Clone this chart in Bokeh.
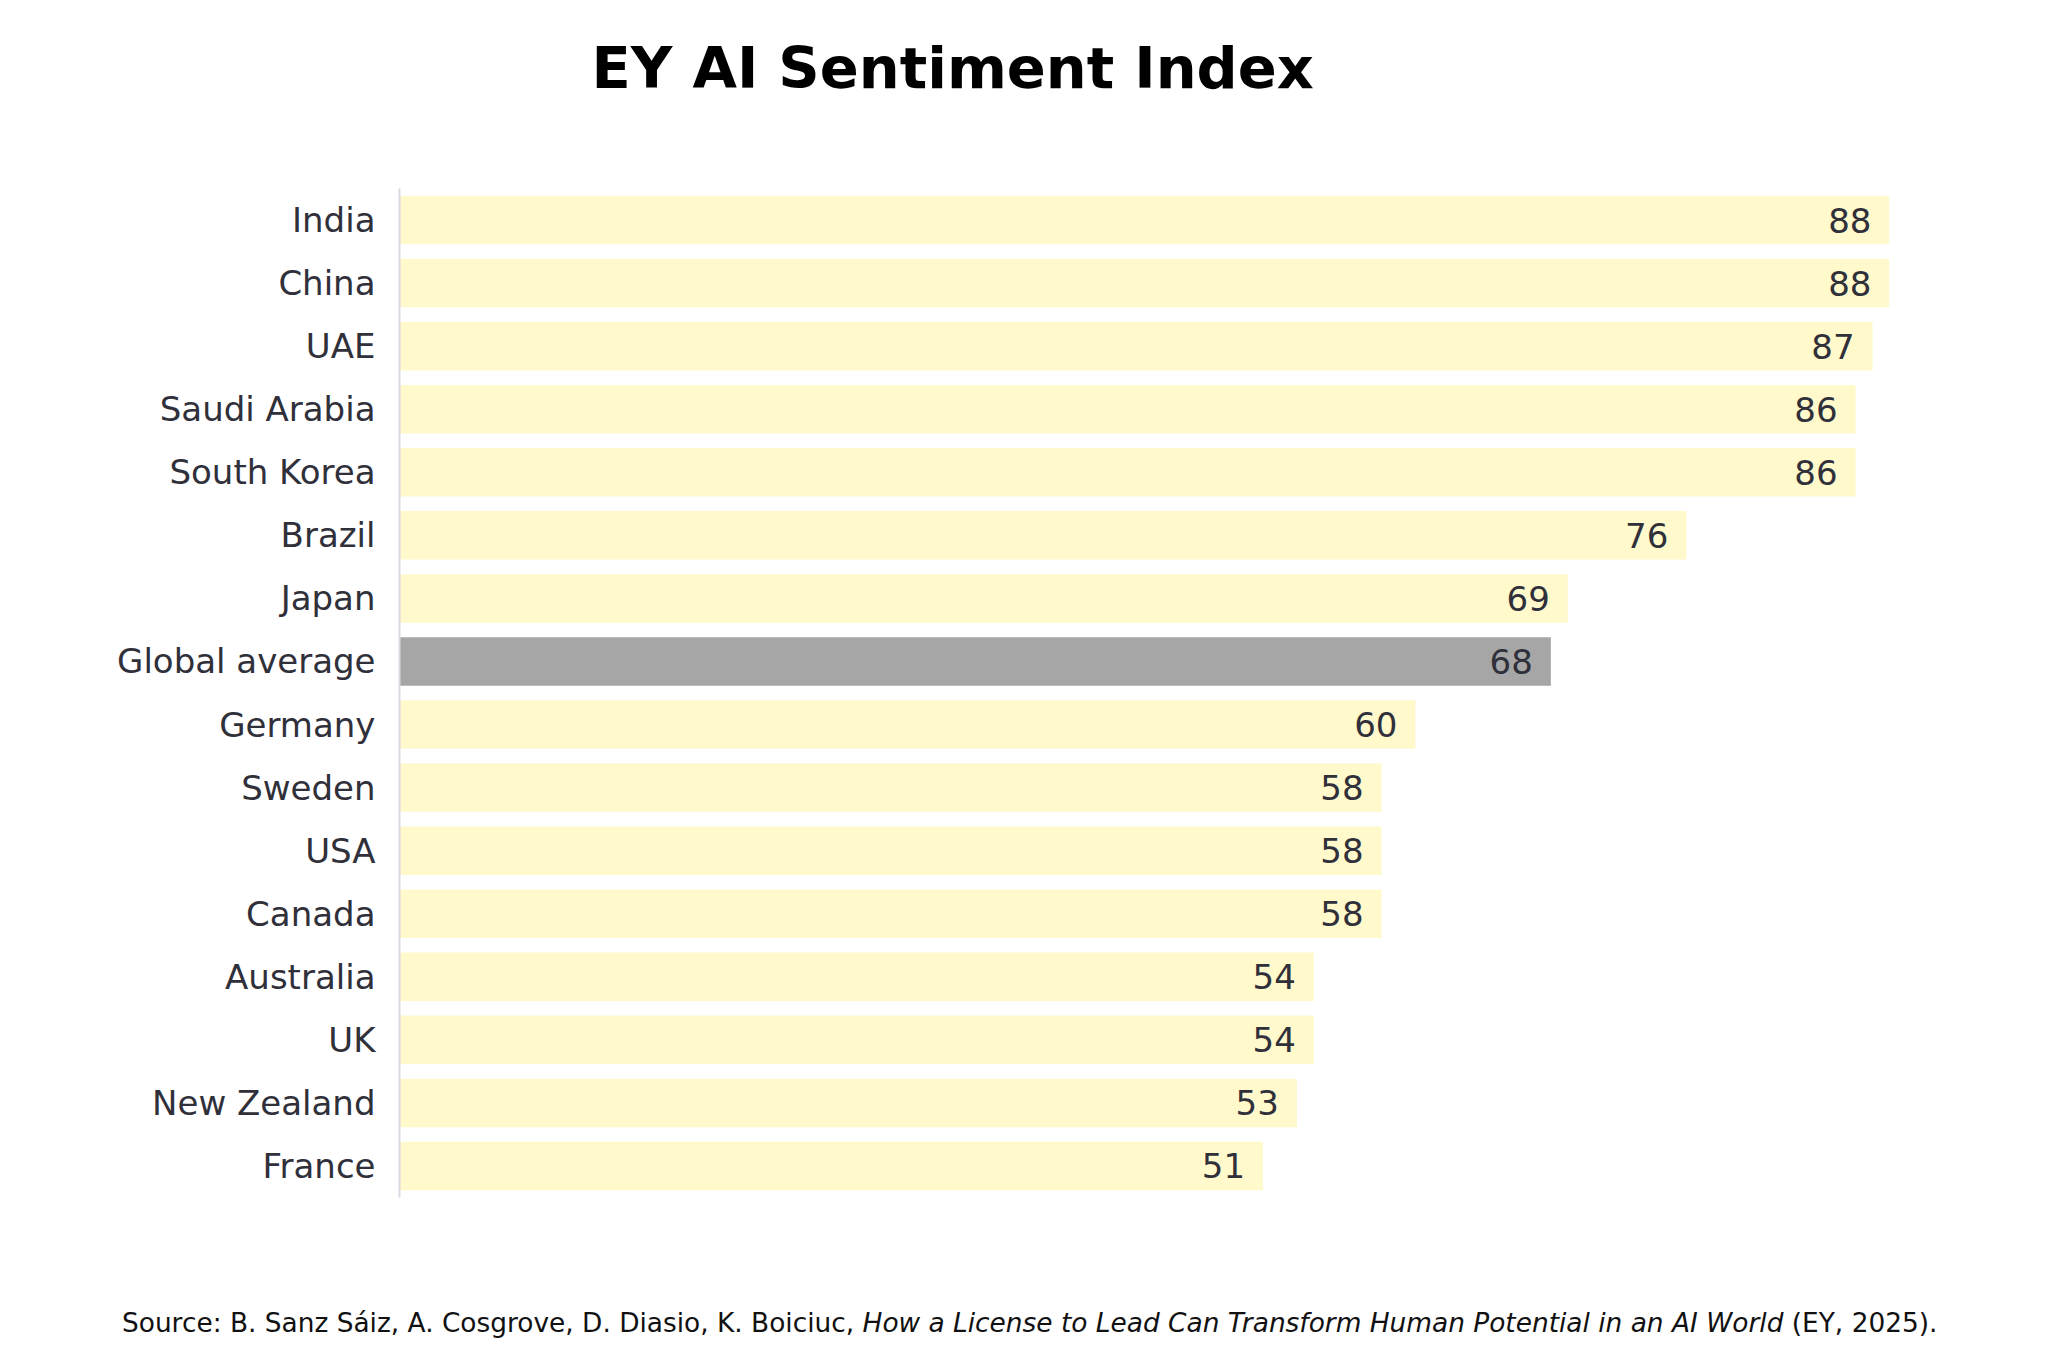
from bokeh.plotting import figure
from bokeh.models import ColumnDataSource, Range1d, FactorRange, Label, Div
from bokeh.layouts import column
from bokeh.embed import file_html
from bokeh.resources import INLINE
from bokeh.core.properties import value

# ---- data ----
countries = ["India", "China", "UAE", "Saudi Arabia", "South Korea", "Brazil",
             "Japan", "Global average", "Germany", "Sweden", "USA", "Canada",
             "Australia", "UK", "New Zealand", "France"]
scores = [88, 88, 87, 86, 86, 76, 69, 68, 60, 58, 58, 58, 54, 54, 53, 51]
highlight = "Global average"

title_text = "EY AI Sentiment Index"
source_prefix = "Source: B. Sanz Sáiz, A. Cosgrove, D. Diasio, K. Boiciuc,"
source_title = "How a License to Lead Can Transform Human Potential in an AI World"
source_suffix = "(EY, 2025)."

# ---- styles ----
FONT = "DejaVu Sans"
BAR_YELLOW = "#FFF9CC"
BAR_GREY = "#A6A6A6"
TEXT_COL = "#30303a"
W = 2032
LEFT, RIGHT = 399, 143

colors = [BAR_GREY if c == highlight else BAR_YELLOW for c in countries]
src = ColumnDataSource(dict(country=countries, score=scores, color=colors,
                            label=[str(s) for s in scores]))

# ---- header with the title ----
head = figure(width=W, height=178, x_range=Range1d(0, 1), y_range=Range1d(0, 1),
              output_backend="svg", toolbar_location=None,
              min_border_left=LEFT, min_border_right=RIGHT,
              min_border_top=0, min_border_bottom=0)
head.axis.visible = False
head.grid.visible = False
head.outline_line_color = None
head.background_fill_color = "white"
head.border_fill_color = "white"
head.add_layout(Label(x=192, y=110, x_units="screen", y_units="screen",
                      text=title_text, text_align="left", text_baseline="alphabetic",
                      text_font=FONT, text_font_size="57.5px", text_font_style="bold",
                      text_color="black"))

# ---- main bar chart ----
p = figure(width=W, height=1039,
           y_range=FactorRange(factors=list(reversed(countries))),
           x_range=Range1d(0, 88),
           output_backend="svg", toolbar_location=None,
           min_border_left=LEFT, min_border_right=RIGHT,
           min_border_top=10, min_border_bottom=20)

p.hbar(y="country", left=0, right="score", height=0.77, fill_color="color",
       line_color=None, source=src)
p.text(x="score", y="country", text="label", source=src, x_offset=-18,
       text_align="right", text_baseline="middle", text_font=value(FONT),
       text_font_size="34px", text_color=TEXT_COL)

p.xaxis.visible = False
p.xgrid.visible = False
p.ygrid.visible = False
p.outline_line_color = None
p.background_fill_color = "white"
p.border_fill_color = "white"

ax = p.yaxis[0]
ax.axis_line_color = "#D9D9E4"
ax.axis_line_width = 2
ax.major_tick_line_color = None
ax.major_tick_out = 0
ax.major_tick_in = 0
ax.minor_tick_line_color = None
ax.major_label_standoff = 24
ax.major_label_text_font = FONT
ax.major_label_text_font_size = "34px"
ax.major_label_text_color = TEXT_COL

# ---- footer with the source line ----
source_html = (
    '<div style="font-family: \'DejaVu Sans\'; font-size: 26.4px; color: #111111; '
    'white-space: nowrap; line-height: 30px; padding-left: 117px; padding-top: 86px;">'
    f'{source_prefix} <i>{source_title}</i> {source_suffix}</div>'
)
foot = Div(text=source_html, width=W, height=132)

page = column(head, p, foot, spacing=0)
open("out.html", "w").write(file_html(page, INLINE))
